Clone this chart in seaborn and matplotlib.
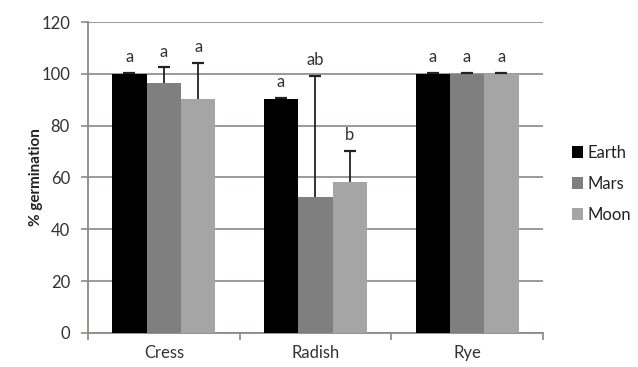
import numpy as np
import pandas as pd
import matplotlib
matplotlib.use("Agg")
import matplotlib.pyplot as plt
import seaborn as sns
from matplotlib.patches import Patch

categories = ["Cress", "Radish", "Rye"]
conditions = ["Earth", "Mars", "Moon"]
earth = [100, 90.3, 100]
mars = [96.5, 52.5, 100]
moon = [90.2, 58.3, 100]
earth_err = [0.3, 0.3, 0.3]
mars_err = [6.0, 46.8, 0.3]
moon_err = [14.0, 12.0, 0.3]
letters_earth = ["a", "a", "a"]
letters_mars = ["a", "ab", "a"]
letters_moon = ["a", "b", "a"]
yticks = [0, 20, 40, 60, 80, 100, 120]

colors = ["#000000", "#7f7f7f", "#a5a5a5"]
grid_c = "#8e8886"

sns.set_style("white")
plt.rcParams["font.family"] = ["Lato", "DejaVu Sans"]

rows = []
vals = {"Earth": earth, "Mars": mars, "Moon": moon}
for cond in conditions:
    for i, cat in enumerate(categories):
        rows.append({"crop": cat, "cond": cond, "pct": vals[cond][i]})
df = pd.DataFrame(rows)

fig = plt.figure(figsize=(6.38, 3.67), dpi=100)
ax = fig.add_axes([0.138, 0.093, 0.713, 0.847])
sns.barplot(data=df, x="crop", y="pct", hue="cond", order=categories,
            hue_order=conditions, palette=colors, width=0.68, gap=0,
            saturation=1, errorbar=None, ax=ax, legend=False, zorder=3,
            linewidth=0, edgecolor="none")

errs = {"Earth": earth_err, "Mars": mars_err, "Moon": moon_err}
letts = {"Earth": letters_earth, "Mars": letters_mars, "Moon": letters_moon}
for cond, cont in zip(conditions, ax.containers):
    for i, bar in enumerate(cont):
        xc = bar.get_x() + bar.get_width() / 2
        h = bar.get_height()
        e = errs[cond][i]
        eb = ax.errorbar(xc, h, yerr=[[0], [e]], fmt="none", ecolor="#222222",
                         elinewidth=1.3, capsize=4, capthick=1.6, zorder=4)
        caps = eb.lines[1]
        if len(caps) > 1:
            caps[0].set_visible(False)
        ax.text(xc, h + e + 3.0, letts[cond][i], ha="center", va="bottom",
                fontsize=12, color="#333333", zorder=5)

ax.set_ylim(0, 120)
ax.set_xlim(-0.5, 2.5)
ax.set_yticks(yticks)
ax.yaxis.grid(True, color=grid_c, linewidth=1.2, zorder=0)
ax.set_axisbelow(True)
ax.set_xlabel("")
ax.set_ylabel("% germination", fontsize=11, fontweight="bold", color="#222222")
ax.yaxis.set_label_coords(-0.10, 0.5)
ax.tick_params(axis="y", length=5, width=1.2, color=grid_c, labelsize=12,
               labelcolor="#333333", direction="out", left=True, pad=8)
ax.set_xticks([-0.5, 0.5, 1.5, 2.5], minor=True)
ax.tick_params(axis="x", which="minor", length=5, width=1.2, color=grid_c, bottom=True, direction="out")
ax.tick_params(axis="x", which="major", length=0, labelsize=12, labelcolor="#333333", pad=9)
for s in ["top", "right"]:
    ax.spines[s].set_visible(False)
for s in ["left", "bottom"]:
    ax.spines[s].set_color(grid_c)
    ax.spines[s].set_linewidth(1.3)

handles = [Patch(facecolor=c, edgecolor="none", label=l) for c, l in zip(colors, conditions)]
ax.legend(handles=handles, loc="center left", bbox_to_anchor=(1.03, 0.48), frameon=False,
          fontsize=12, handlelength=0.7, handleheight=0.7, handletextpad=0.25,
          labelspacing=0.9, labelcolor="#222222")

fig.savefig("out.png", dpi=100)
